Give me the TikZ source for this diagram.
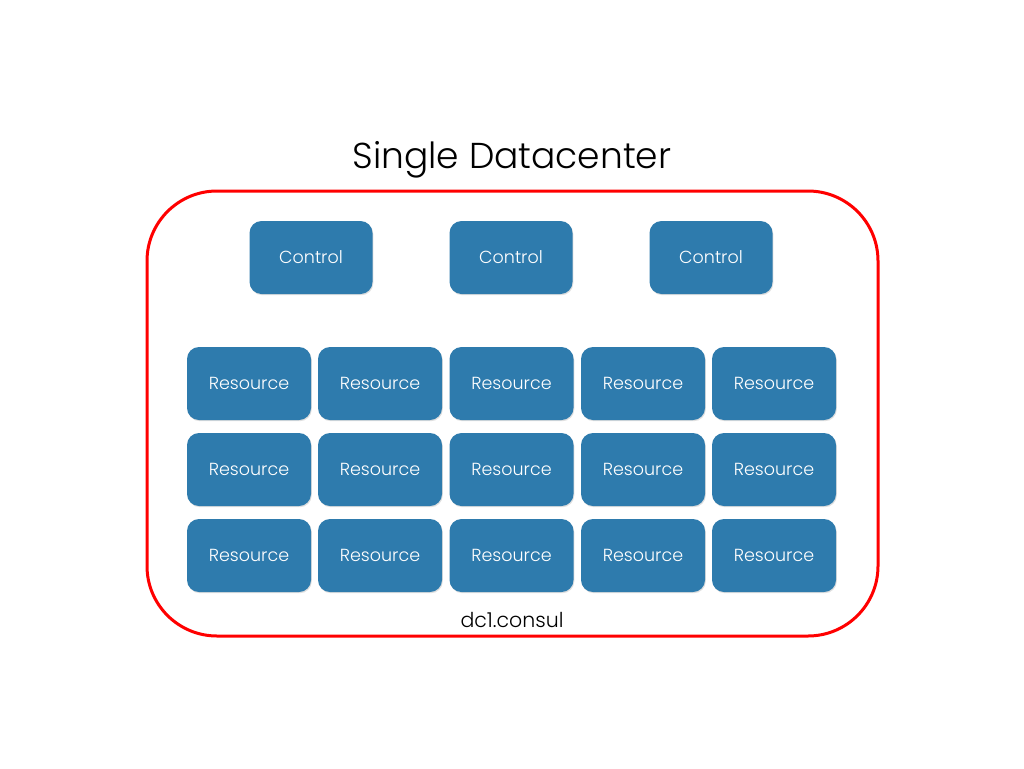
\documentclass[tikz,border=0pt]{standalone}
\usepackage{fontspec}
\setmainfont{Poppins Light}
\usetikzlibrary{shadows}
\definecolor{boxblue}{HTML}{2E7BAD}
\begin{document}
\begin{tikzpicture}[x=1pt,y=-1pt,
  tile/.style={fill=boxblue, rounded corners=12pt, minimum width=123pt, minimum height=73pt,
    inner sep=0pt, text=white, font=\fontsize{17.5}{20}\selectfont,
    drop shadow={shadow xshift=0.8pt, shadow yshift=-1.2pt, opacity=0.25}},
  frame/.style={draw=red, line width=3pt, rounded corners=70pt}]
\useasboundingbox (0,0) rectangle (1024,768);
\fill[white] (0,0) rectangle (1024,768);
\node[font=\fontsize{36}{40}\selectfont] (title) at (512,160) {Single Datacenter};
\draw[frame] (147,191) rectangle (878,636);
\node[tile] (c1) at (311,257.5) {Control};
\node[tile] (c2) at (511,257.5) {Control};
\node[tile] (c3) at (711,257.5) {Control};
\foreach \r/\y in {1/383.5, 2/469.5, 3/555.5} {
  \foreach \c/\x in {1/249, 2/380, 3/511.5, 4/643, 5/774} {
    \node[tile, minimum width=124pt] (r\r c\c) at (\x,\y) {Resource};
  }
}
\node[font=\fontsize{20.5}{22}\selectfont] (lbl) at (512,620) {dc1.consul};
\end{tikzpicture}
\end{document}
